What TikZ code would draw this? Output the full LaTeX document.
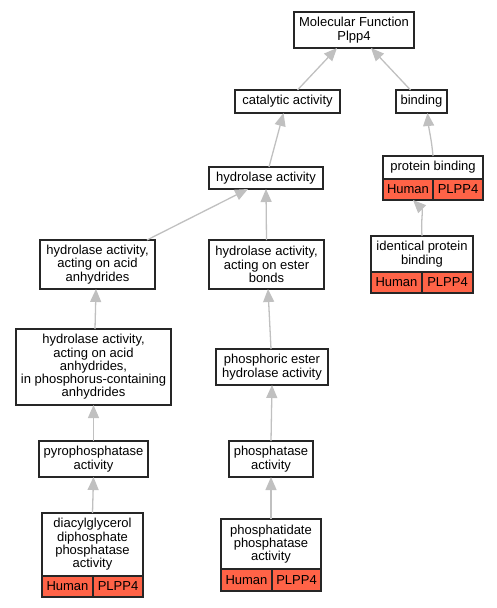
\documentclass[tikz,border=0pt]{standalone}
\usepackage{fontspec}
\setmainfont{Liberation Sans}
\usepackage{tikz}
\usetikzlibrary{arrows.meta}
\definecolor{tomato}{RGB}{255,99,71}
\definecolor{edgegray}{RGB}{192,192,192}

\begin{document}
\begin{tikzpicture}[
    x=1pt, y=-1pt,
    term/.style={
        rectangle, draw=black!85, line width=1.4pt, fill=white,
        inner sep=0pt, outer sep=0pt, align=center,
        font=\fontsize{13}{13.3}\selectfont
    },
    cell/.style={
        term, fill=tomato, minimum height=21pt
    },
    >={Triangle[length=13pt, width=11pt]},
    isa/.style={->, draw=edgegray, line width=1.3pt}
]
\useasboundingbox (0,0) rectangle (497,608);

\node[term, minimum width=120pt, minimum height=36pt] (mf)     at (354,  30)    {Molecular Function\\Plpp4};
\node[term, minimum width=105pt, minimum height=23pt] (cat)    at (287.5,101.5) {catalytic activity};
\node[term, minimum width=51pt,  minimum height=23pt] (bind)   at (421.5,101.5) {binding};
\node[term, minimum width=114pt, minimum height=22pt] (hyd)    at (266,  178)   {hydrolase activity};
\node[term, minimum width=100pt, minimum height=23pt] (pb)     at (433,  167.5) {protein binding};
\node[cell, minimum width=50pt]                       (pbhum)  at (408,  189.5) {Human};
\node[cell, minimum width=50pt]                       (pbgene) at (458,  189.5) {PLPP4};
\node[term, minimum width=102pt, minimum height=36pt] (ipb)    at (422,  254)   {identical protein\\binding};
\node[cell, minimum width=51pt]                       (ipbhum) at (396.5,282.5) {Human};
\node[cell, minimum width=51pt]                       (ipbgene) at (447.5,282.5) {PLPP4};
\node[term, minimum width=115pt, minimum height=49pt] (acid)   at (97.5, 264.5) {hydrolase activity,\\acting on acid\\anhydrides};
\node[term, minimum width=115pt, minimum height=49pt] (ester)  at (266.5,264.5) {hydrolase activity,\\acting on ester\\bonds};
\node[term, minimum width=155pt, minimum height=76pt] (phos)   at (93.5, 367)   {hydrolase activity,\\acting on acid\\anhydrides,\\in phosphorus-containing\\anhydrides};
\node[term, minimum width=112pt, minimum height=36pt] (pest)   at (272,  367)   {phosphoric ester\\hydrolase activity};
\node[term, minimum width=109pt, minimum height=36pt] (pyro)   at (93.5, 459)   {pyrophosphatase\\activity};
\node[term, minimum width=84pt,  minimum height=36pt] (ptase)  at (271,  459)   {phosphatase\\activity};
\node[term, minimum width=101pt, minimum height=63pt] (dag)    at (92.5, 544.5) {diacylglycerol\\diphosphate\\phosphatase\\activity};
\node[cell, minimum width=51pt]                       (daghum) at (67.5, 586.5) {Human};
\node[cell, minimum width=50pt]                       (daggene) at (118,  586.5) {PLPP4};
\node[term, minimum width=100pt, minimum height=50pt] (pa)     at (271,  544)   {phosphatidate\\phosphatase\\activity};
\node[cell, minimum width=51pt, minimum height=22pt]  (pahum)  at (246.5,580)   {Human};
\node[cell, minimum width=49pt, minimum height=22pt]  (pagene) at (296.5,580)   {PLPP4};

\draw[isa] ([xshift=10pt]cat.north)    -- ([xshift=-17pt]mf.south);
\draw[isa] ([xshift=-11pt]bind.north)  -- ([xshift=17pt]mf.south);
\draw[isa] ([xshift=3pt]hyd.north)     -- ([xshift=-4pt]cat.south);
\draw[isa] (pb.north) to[out=95, in=-85] ([xshift=6pt]bind.south);
\draw[isa] (ipb.north) to[out=95, in=-45] ([xshift=5pt]pbhum.south);
\draw[isa] ([xshift=49.5pt]acid.north) -- ([xshift=-18pt]hyd.south);
\draw[isa] (ester.north)               -- (hyd.south);
\draw[isa] ([xshift=1.5pt]phos.north)  -- ([xshift=-1.5pt]acid.south);
\draw[isa] (pyro.north)                -- (phos.south);
\draw[isa] (dag.north)                 -- (pyro.south);
\draw[isa] ([xshift=-1pt]pest.north)   -- ([xshift=1.5pt]ester.south);
\draw[isa] (ptase.north)               -- (pest.south);
\draw[isa] (pa.north)                  -- (ptase.south);

\end{tikzpicture}
\end{document}
